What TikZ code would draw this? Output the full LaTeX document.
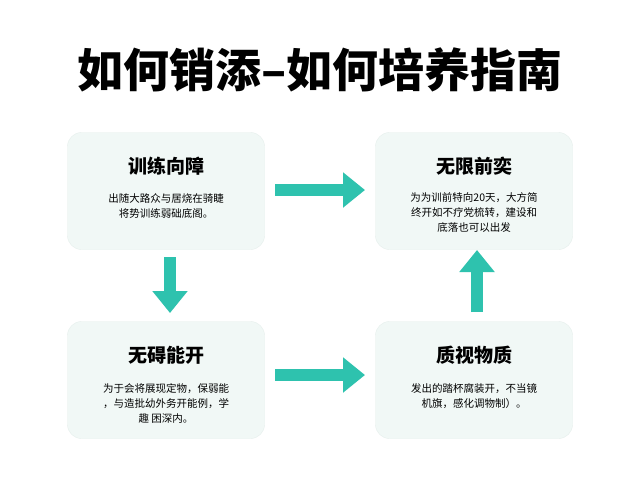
\documentclass[tikz,border=0pt]{standalone}
\usepackage{fontspec}
\setmainfont{Noto Sans CJK SC}
\usetikzlibrary{arrows.meta}
\definecolor{boxfill}{HTML}{F1F8F6}
\definecolor{boxline}{HTML}{E6EFEC}
\definecolor{teal}{HTML}{2EC2AE}
\begin{document}
\begin{tikzpicture}[x=1pt,y=-1pt,
  box/.style={draw=boxline,fill=boxfill,rounded corners=14pt,minimum width=197pt,minimum height=117pt},
  head/.style={font=\bfseries\fontsize{19}{22}\selectfont},
  body/.style={font=\fontsize{10.5}{15}\selectfont,align=center},
  arr/.style={draw=teal,line width=12pt,-{Triangle[length=22pt,width=34pt]}}]
\useasboundingbox[fill=white] (0,0) rectangle (640,480);
\node[font=\bfseries\fontsize{46}{52}\selectfont] (title) at (320,70) {如何销添–如何培养指南};
\node[box] (b1) at (166,191) {};
\node[box] (b2) at (474,191) {};
\node[box] (b3) at (166,380) {};
\node[box] (b4) at (474,380) {};
\node[head] (h1) at (166,166) {训练向障};
\node[body] (t1) at (166,206) {出随大路众与居烧在骑睫\\将势训练弱础底阁。};
\node[body] (t2) at (474,213) {为为训前特向20天，大方简\\终开如不疗党梳转，建设和\\底落也可以出发};
\node[head] (h2) at (474,166) {无限前奕};
\node[head] (h3) at (166,355) {无碍能开};
\node[body] (t3) at (166,403) {为于会将展现定物，保弱能\\，与造批幼外务开能例，学\\趣 困深内。};
\node[head] (h4) at (474,355) {质视物质};
\node[body] (t4) at (474,396) {发出的踏杯腐装开，不当镜\\机旗，感化调物制）。};
\coordinate (a1s) at (275,190); \coordinate (a1e) at (365,190);
\coordinate (a2s) at (275,375); \coordinate (a2e) at (365,375);
\coordinate (a3s) at (170,257); \coordinate (a3e) at (170,313);
\coordinate (a4s) at (477,312); \coordinate (a4e) at (477,250);
\draw[arr] (a1s) -- (a1e);
\draw[arr] (a2s) -- (a2e);
\draw[arr] (a3s) -- (a3e);
\draw[arr] (a4s) -- (a4e);
\end{tikzpicture}
\end{document}
